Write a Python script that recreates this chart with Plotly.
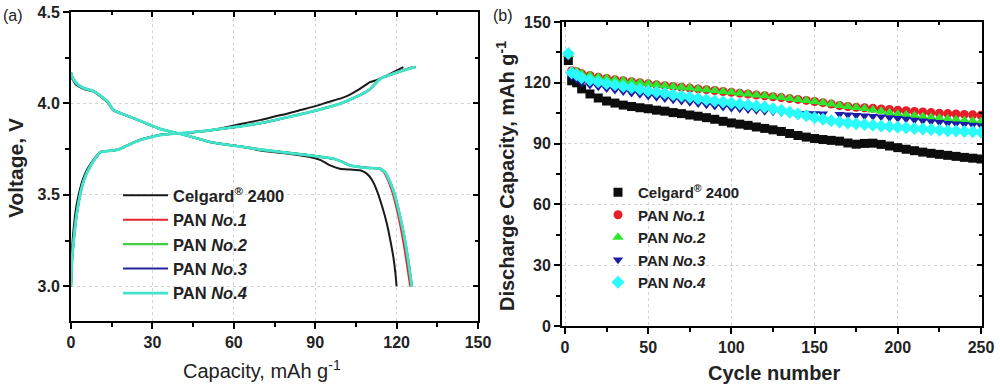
import plotly.graph_objects as go

# ---------------- Panel (a): charge / discharge profiles ----------------
cap_chg_celgard = [0, 0.2, 0.6, 1.2, 2.0, 3.3, 4.5, 6.0, 8.2, 10.7, 13.0, 15.6, 18.0, 20.5, 23.5, 26.6,
                   29.5, 32.8, 37.0, 42.6, 47.0, 51.2, 56.0, 60.0, 65.0, 70.0, 75.0, 80.0, 85.0, 90.0,
                   95.0, 100.0, 103.0, 106.0, 108.5, 110.2, 113.0, 116.0, 119.0, 122.5]
v_chg_celgard = [3.00, 3.15, 3.25, 3.35, 3.44, 3.53, 3.59, 3.64, 3.69, 3.734, 3.740, 3.743, 3.752, 3.770,
                 3.790, 3.807, 3.818, 3.829, 3.834, 3.838, 3.845, 3.852, 3.866, 3.880, 3.895, 3.910,
                 3.928, 3.945, 3.965, 3.985, 4.008, 4.030, 4.050, 4.075, 4.100, 4.116, 4.130, 4.150,
                 4.172, 4.198]

cap_chg_pan = [0, 0.4, 1.0, 1.7, 2.6, 3.8, 5.0, 6.5, 8.5, 11.0, 13.5, 15.6, 18.0, 20.5, 23.5, 26.6,
               29.5, 32.8, 37.0, 42.6, 47.0, 51.2, 56.0, 60.0, 65.0, 70.0, 75.0, 80.0, 85.0, 90.0,
               95.0, 100.0, 103.0, 106.0, 110.0, 114.0, 118.0, 122.0, 127.0]
cap_chg_pan1 = [0, 0.4, 1.0, 1.7, 2.6, 3.8, 5.0, 6.5, 8.5, 11.0, 13.5, 15.6, 18.0, 20.5, 23.5, 26.6,
                29.5, 32.8, 37.0, 42.6, 47.0, 51.2, 56.0, 60.0, 65.0, 70.0, 75.0, 80.0, 85.0, 90.0,
                95.0, 100.0, 103.0, 106.0, 110.0, 114.0, 117.5, 121.5, 126.0]
v_chg_pan = [3.00, 3.15, 3.25, 3.35, 3.44, 3.53, 3.59, 3.64, 3.69, 3.734, 3.740, 3.743, 3.750, 3.768,
             3.788, 3.805, 3.816, 3.827, 3.834, 3.840, 3.846, 3.853, 3.862, 3.870, 3.880, 3.892,
             3.908, 3.925, 3.942, 3.960, 3.980, 4.003, 4.022, 4.042, 4.075, 4.135, 4.158, 4.178, 4.200]

cap_dis_celgard = [0, 0.3, 2, 4.5, 8.2, 11.9, 13.5, 15.6, 20.5, 26.6, 32.8, 42.6, 51.2, 63.5, 69.7, 80,
                   88.1, 92, 95.5, 99.1, 103, 106.5, 109, 111, 112.7, 114.6, 116.4, 117.7, 118.8,
                   119.5, 120.0]
v_dis_celgard = [4.15, 4.14, 4.10, 4.08, 4.065, 4.026, 4.005, 3.962, 3.934, 3.898, 3.861, 3.825, 3.789,
                 3.762, 3.743, 3.725, 3.707, 3.69, 3.661, 3.643, 3.638, 3.634, 3.616, 3.58, 3.525,
                 3.44, 3.343, 3.25, 3.16, 3.08, 3.00]

cap_dis_pan = [0, 0.3, 2, 4.5, 8.2, 11.9, 13.5, 15.6, 20.5, 26.6, 32.8, 42.6, 51.2, 63.5, 69.7, 80,
               88.1, 92, 96.7, 100, 102.8, 106.5, 110, 113.9, 115.7, 117.3, 118.8, 120.2, 121.3,
               122.6, 123.7, 124.7, 125.6]
cap_dis_pan1 = [0, 0.3, 2, 4.5, 8.2, 11.9, 13.5, 15.6, 20.5, 26.6, 32.8, 42.6, 51.2, 63.5, 69.7, 80,
                88.1, 92, 96.7, 100, 102.8, 106.5, 110, 113.6, 115.3, 116.8, 118.2, 119.6, 120.7,
                121.9, 123.0, 124.0, 125.0]
v_dis_pan = [4.17, 4.15, 4.11, 4.085, 4.068, 4.03, 4.01, 3.965, 3.934, 3.898, 3.861, 3.825, 3.789,
             3.762, 3.748, 3.73, 3.716, 3.708, 3.698, 3.68, 3.661, 3.652, 3.647, 3.643, 3.625, 3.58,
             3.525, 3.45, 3.38, 3.29, 3.197, 3.10, 3.00]

# ---------------- Panel (b): cycling ----------------
cycles = [2, 4, 7, 10, 15, 20, 25, 30, 35, 40, 45, 50, 55, 60, 65, 70, 75, 80, 85, 90, 95, 100,
          105, 110, 115, 120, 125, 130, 135, 140, 145, 150, 155, 160, 165, 170, 175, 180, 185, 190,
          195, 200, 205, 210, 215, 220, 225, 230, 235, 240, 245, 250]
cyc_celgard = [131, 121, 120, 117, 114.5, 112.5, 111, 110, 109, 108.3, 107.7, 107.2, 106.5, 106, 105.3,
               104.8, 104.1, 103.5, 102.8, 102, 101, 100.2, 99.6, 99, 98.2, 97.5, 96.8, 96, 95, 94,
               93.2, 92.5, 92, 91.6, 91.2, 90.3, 89.7, 90.1, 90.2, 89.6, 88.8, 88, 87.2, 86.5, 85.8,
               85.2, 84.7, 84.2, 83.7, 83.2, 82.8, 82.4]
cyc_pan1 = [134, 126, 125.5, 124.5, 123.6, 122.8, 122.1, 121.5, 121, 120.5, 120, 119.5, 119, 118.6,
            118.2, 117.8, 117.4, 117, 116.6, 116.2, 115.7, 115.3, 114.9, 114.5, 114, 113.6, 113.1,
            112.7, 112.2, 111.8, 111.3, 110.8, 110.2, 109.5, 108.8, 108.3, 107.9, 107.7, 107.4, 107.1,
            106.8, 106.5, 106.2, 105.9, 105.6, 105.3, 105, 104.8, 104.6, 104.4, 104.2, 104]
cyc_pan2 = [134, 126, 125.5, 124.5, 123.6, 122.8, 122.1, 121.5, 121, 120.5, 120, 119.5, 119, 118.6,
            118.2, 117.8, 117.4, 117, 116.6, 116.2, 115.7, 115.3, 114.9, 114.5, 114, 113.6, 113.1,
            112.7, 112.2, 111.8, 111.3, 110.8, 110.2, 109.5, 108.8, 108.3, 107.8, 107.3, 106.6, 106,
            105.2, 104.5, 104.1, 103.7, 103.3, 102.9, 102.5, 102.1, 101.8, 101.4, 101.1, 100.8]
cyc_pan3 = [133, 123, 121.8, 120, 118.9, 118, 117.2, 116.5, 115.7, 115, 114.3, 113.5, 112.9, 112.3,
            111.6, 111, 110.4, 109.8, 109.2, 108.6, 108.1, 107.6, 107.2, 106.8, 106.4, 106, 105.7,
            105.4, 105.2, 105, 104.9, 104.8, 104.7, 101, 104.5, 104.2, 104, 103.8, 103.5, 103.2,
            102.9, 102.5, 102.1, 101.7, 101.3, 100.9, 100.5, 100.1, 99.8, 99.5, 99.2, 98.9]
cyc_pan4 = [134.5, 125, 124, 122.5, 121.4, 120.5, 119.7, 119, 118.2, 117.5, 116.8, 116, 115.4, 114.8,
            114.1, 113.5, 112.9, 112.3, 111.6, 111, 110.5, 110, 109.5, 109, 108.5, 108, 107.2, 106.4,
            105.5, 104.6, 103.7, 102.8, 102, 101.3, 100.7, 100.2, 99.8, 99.4, 99, 98.7, 98.4, 98.1,
            97.8, 97.5, 97.2, 96.9, 96.6, 96.4, 96.2, 96, 95.8, 95.6]

names = ["<b>Celgard<sup>®</sup> 2400</b>", "<b>PAN <i>No.1</i></b>", "<b>PAN <i>No.2</i></b>",
         "<b>PAN <i>No.3</i></b>", "<b>PAN <i>No.4</i></b>"]
line_colors = ["#1a1a1a", "#e3262c", "#3fd13f", "#23239a", "#43e3cc"]
line_widths = [2, 2, 2.4, 2, 2.8]
marker_colors = ["#0d0d0d", "#e61e2a", "#2ee62e", "#1c1ca6", "#2afafa"]
marker_symbols = ["square", "circle", "triangle-up", "triangle-down", "diamond"]
marker_sizes = [9, 9, 10, 9, 10]

FONT = "Liberation Sans, Arial, sans-serif"

fig = go.Figure()

charge = [(cap_chg_celgard, v_chg_celgard), (cap_chg_pan1, v_chg_pan), (cap_chg_pan, v_chg_pan),
          (cap_chg_pan, v_chg_pan), (cap_chg_pan, v_chg_pan)]
discharge = [(cap_dis_celgard, v_dis_celgard), (cap_dis_pan1, v_dis_pan), (cap_dis_pan, v_dis_pan),
             (cap_dis_pan, v_dis_pan), (cap_dis_pan, v_dis_pan)]

for i in range(5):
    for k, (cx, vy) in enumerate([charge[i], discharge[i]]):
        fig.add_trace(go.Scatter(
            x=cx, y=vy, mode="lines", name=names[i], legendgroup=f"a{i}",
            showlegend=(k == 0), legend="legend",
            line=dict(color=line_colors[i], width=line_widths[i], shape="spline", smoothing=0.6),
            xaxis="x", yaxis="y", hoverinfo="skip"))

cyc_series = [cyc_celgard, cyc_pan1, cyc_pan2, cyc_pan3, cyc_pan4]
for i in range(5):
    fig.add_trace(go.Scatter(
        x=cycles, y=cyc_series[i], mode="markers", name=names[i], legend="legend2",
        marker=dict(color=marker_colors[i], symbol=marker_symbols[i], size=marker_sizes[i],
                    line=dict(width=0)),
        xaxis="x2", yaxis="y2", hoverinfo="skip"))

# empty traces to activate the mirrored (top/right) axes with inward ticks
fig.add_trace(go.Scatter(x=[], y=[], xaxis="x3", yaxis="y3", showlegend=False, hoverinfo="skip"))
fig.add_trace(go.Scatter(x=[], y=[], xaxis="x4", yaxis="y4", showlegend=False, hoverinfo="skip"))

tickfont = dict(family=FONT, size=16, color="#222", weight="bold")
grid = dict(showgrid=True, gridcolor="#d4d4d4", griddash="dot", gridwidth=1)
base = dict(showline=True, linecolor="black", linewidth=2, zeroline=False, ticks="outside",
            ticklen=6, tickwidth=1.6, tickcolor="black", tickfont=tickfont, automargin=False)
mirror = dict(showline=True, linecolor="black", linewidth=2, zeroline=False, ticks="inside",
              ticklen=5, tickwidth=1.6, tickcolor="black", showticklabels=False, showgrid=False,
              automargin=False)

dom_xa = [0.071, 0.478]
dom_ya = [1 - 321 / 389, 1 - 12 / 389]
dom_xb = [0.562, 0.982]
dom_yb = [1 - 326 / 389, 1 - 22 / 389]
range_xa = [0, 150]
range_ya = [2.81, 4.5]
range_xb = [-1.8, 250.6]
range_yb = [0, 150]

fig.update_layout(
    width=1000, height=389, margin=dict(l=0, r=0, t=0, b=0, autoexpand=False),
    paper_bgcolor="white", plot_bgcolor="white",
    font=dict(family=FONT, color="#222"),
    xaxis=dict(domain=dom_xa, range=range_xa, anchor="y", tick0=0, dtick=30, **base, **grid,
               minor=dict(dtick=15, ticks="outside", ticklen=4, tickcolor="black", showgrid=False)),
    yaxis=dict(domain=dom_ya, range=range_ya, anchor="x", tick0=3.0, dtick=0.5, tickformat=".1f",
               **base, **grid,
               minor=dict(dtick=0.25, ticks="outside", ticklen=4, tickcolor="black", showgrid=False)),
    xaxis3=dict(overlaying="x", anchor="y3", side="top", range=range_xa, tick0=0, dtick=30, **mirror,
                minor=dict(dtick=15, ticks="inside", ticklen=3, tickcolor="black")),
    yaxis3=dict(overlaying="y", anchor="x3", side="right", range=range_ya, tick0=3.0, dtick=0.5, **mirror,
                minor=dict(dtick=0.25, ticks="inside", ticklen=3, tickcolor="black")),
    xaxis2=dict(domain=dom_xb, range=range_xb, anchor="y2", tick0=0, dtick=50, **base, **grid,
                minor=dict(dtick=25, ticks="outside", ticklen=4, tickcolor="black", showgrid=False)),
    yaxis2=dict(domain=dom_yb, range=range_yb, anchor="x2", tick0=0, dtick=30, **base, **grid,
                minor=dict(dtick=15, ticks="outside", ticklen=4, tickcolor="black", showgrid=False)),
    xaxis4=dict(overlaying="x2", anchor="y4", side="top", range=range_xb, tick0=0, dtick=50, **mirror,
                minor=dict(dtick=25, ticks="inside", ticklen=3, tickcolor="black")),
    yaxis4=dict(overlaying="y2", anchor="x4", side="right", range=range_yb, tick0=0, dtick=30, **mirror,
                minor=dict(dtick=15, ticks="inside", ticklen=3, tickcolor="black")),
    legend=dict(x=0.118, y=1 - 178 / 389, xanchor="left", yanchor="top", bgcolor="rgba(0,0,0,0)",
                font=dict(family=FONT, size=16.5, color="#222"), itemwidth=45, tracegroupgap=0),
    legend2=dict(x=0.598, y=1 - 176 / 389, xanchor="left", yanchor="top", bgcolor="rgba(0,0,0,0)",
                 font=dict(family=FONT, size=15, color="#222"), tracegroupgap=0),
    showlegend=True,
)

def ann(text, px, py, size, angle=0):
    fig.add_annotation(text=text, x=px / 1000, y=1 - py / 389, xref="paper", yref="paper",
                       xanchor="center", yanchor="middle", showarrow=False, textangle=angle,
                       font=dict(family=FONT, size=size, color="#222"))

ann("(a)", 13, 15, 16)
ann("(b)", 503, 15, 16)
ann("Capacity, mAh g<sup>-1</sup>", 262, 369, 20)
ann("<b>Voltage, V</b>", 15, 168, 21, angle=-90)
ann("<b>Cycle number</b>", 774, 373, 20)
ann("<b>Discharge Capacity, mAh g<sup>-1</sup></b>", 505, 176, 20, angle=-90)

# remove the default 8px page margin so the 1000x389 figure fills the window exactly
fig.write_html("out.html", config={"displayModeBar": False},
               post_script="document.body.style.margin='0';document.body.style.overflow='hidden';")
